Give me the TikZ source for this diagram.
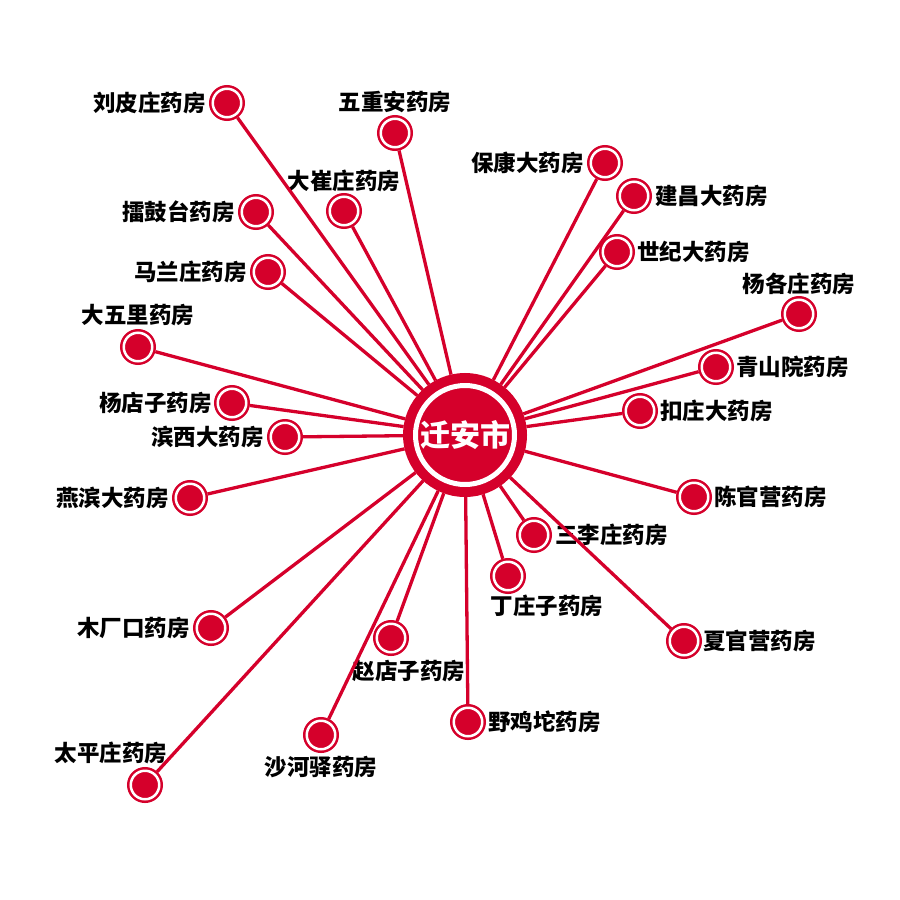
\documentclass[tikz,border=0pt]{standalone}
\usepackage{fontspec}
\newfontfamily\cjk{Noto Sans CJK SC}[BoldFont={Noto Sans CJK SC Black}]
\usetikzlibrary{positioning}
\definecolor{qred}{RGB}{213,0,43}
\tikzset{
  shop/.style={circle,fill=qred,draw=qred,double=white,double distance=2.5pt,line width=2.5pt,inner sep=0pt,minimum size=28.5pt,outer sep=3.75pt},
  city/.style={circle,fill=qred,draw=qred,double=white,double distance=5pt,line width=10pt,inner sep=0pt,minimum size=99pt,outer sep=12.5pt,text=white,font=\cjk\bfseries\fontsize{30pt}{30pt}\selectfont},
  lbl/.style={inner sep=0pt,font=\cjk\bfseries\fontsize{22.5pt}{22.5pt}\selectfont},
  link/.style={qred,line width=3.3pt}
}
\begin{document}
\begin{tikzpicture}[x=1pt,y=-1pt]
    \useasboundingbox (0,0) rectangle (900,900);
    % centre
    \node[city] (qa) at (465,435) {\raisebox{2pt}{迁安市}};
    % pharmacies
    \node[shop] (liupi) at (227,103) {};
    \node[shop] (wuzhong) at (395,133) {};
    \node[shop] (baokang) at (605,163) {};
    \node[shop] (jianchang) at (634,196) {};
    \node[shop] (dacui) at (344,211) {};
    \node[shop] (leigu) at (256,212) {};
    \node[shop] (shiji) at (617,252) {};
    \node[shop] (malan) at (268,272) {};
    \node[shop] (yangge) at (799,314) {};
    \node[shop] (dawuli) at (138,347) {};
    \node[shop] (qingshan) at (716,367) {};
    \node[shop] (yangdian) at (232,403) {};
    \node[shop] (kouzhuang) at (640,411) {};
    \node[shop] (binxi) at (285,437) {};
    \node[shop] (yanbin) at (190,498) {};
    \node[shop] (chenguan) at (694,497) {};
    \node[shop] (sanli) at (534,535) {};
    \node[shop] (dingzhuang) at (508,576) {};
    \node[shop] (muchang) at (211,628) {};
    \node[shop] (xiaguan) at (684,641) {};
    \node[shop] (zhaodian) at (391,638) {};
    \node[shop] (yeji) at (468,722) {};
    \node[shop] (shahe) at (321,735) {};
    \node[shop] (taiping) at (145,785) {};
    % names
    \node[lbl,left=3pt of liupi] {刘皮庄药房};
    \node[lbl,above=2pt of wuzhong] {五重安药房};
    \node[lbl,left=3pt of baokang] {保康大药房};
    \node[lbl,right=3pt of jianchang] {建昌大药房};
    \node[lbl,above=1pt of dacui] {大崔庄药房};
    \node[lbl,left=3pt of leigu] {擂鼓台药房};
    \node[lbl,right=2pt of shiji] {世纪大药房};
    \node[lbl,left=3pt of malan] {马兰庄药房};
    \node[lbl,above=1pt of yangge] {杨各庄药房};
    \node[lbl,above=3pt of dawuli] {大五里药房};
    \node[lbl,right=2pt of qingshan] {青山院药房};
    \node[lbl,left=2pt of yangdian] {杨店子药房};
    \node[lbl,right=2pt of kouzhuang] {扣庄大药房};
    \node[lbl,left=3pt of binxi] {滨西大药房};
    \node[lbl,left=3pt of yanbin] {燕滨大药房};
    \node[lbl,right=2pt of chenguan] {陈官营药房};
    \node[lbl,right=3pt of sanli] {三李庄药房};
    \node[lbl,below=1pt of dingzhuang,xshift=39pt] {丁庄子药房};
    \node[lbl,left=3pt of muchang] {木厂口药房};
    \node[lbl,right=1pt of xiaguan] {夏官营药房};
    \node[lbl,below=4pt of zhaodian,xshift=18pt] {赵店子药房};
    \node[lbl,right=2pt of yeji] {野鸡坨药房};
    \node[lbl,below=3pt of shahe] {沙河驿药房};
    \node[lbl,above=3pt of taiping,xshift=-34pt] {太平庄药房};
    % links
    \foreach \p in {liupi,wuzhong,baokang,jianchang,dacui,leigu,shiji,malan,yangge,dawuli,qingshan,yangdian,
      kouzhuang,binxi,yanbin,chenguan,sanli,dingzhuang,muchang,xiaguan,zhaodian,yeji,shahe,taiping}
      \draw[link] (qa) -- (\p);
\end{tikzpicture}
\end{document}
